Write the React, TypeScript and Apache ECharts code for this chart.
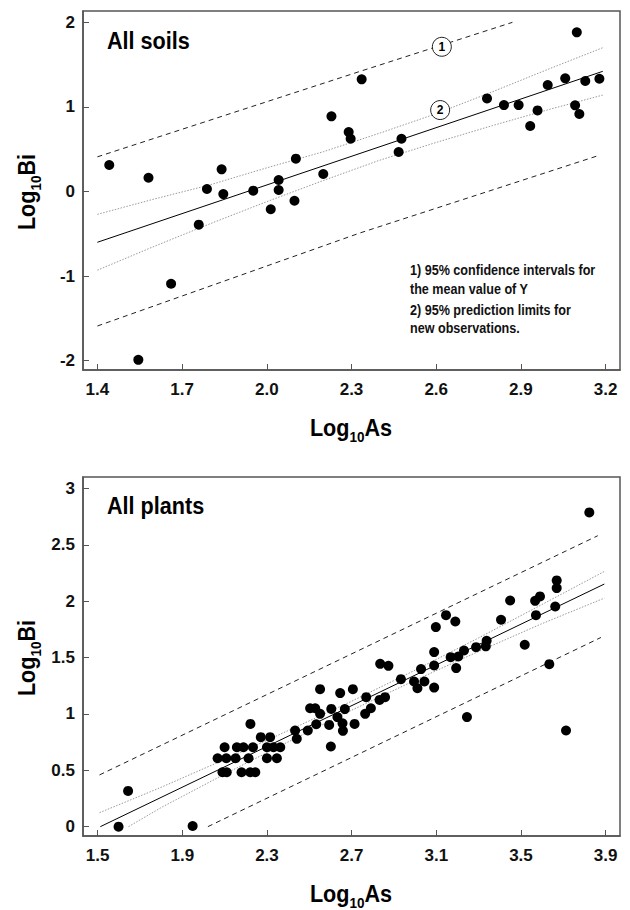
import React, { useEffect, useRef } from "react";
import * as echarts from "echarts";

// ---------- data ----------
const soilsPoints: number[][] = [
  [1.442, 0.313], [1.545, -1.99], [1.581, 0.163], [1.661, -1.09], [1.759, -0.392],
  [1.788, 0.03], [1.84, 0.262], [1.846, -0.03], [1.952, 0.01], [2.014, -0.21],
  [2.042, 0.136], [2.042, 0.018], [2.098, -0.109], [2.103, 0.388], [2.2, 0.207],
  [2.229, 0.889], [2.29, 0.703], [2.297, 0.624], [2.336, 1.326], [2.467, 0.467],
  [2.477, 0.624], [2.78, 1.101], [2.84, 1.022], [2.892, 1.022], [2.933, 0.774],
  [2.959, 0.959], [2.995, 1.259], [3.057, 1.338], [3.092, 1.019], [3.098, 1.882],
  [3.107, 0.916], [3.128, 1.306], [3.178, 1.333],
];

const plantsPoints: number[][] = [
  [1.599, 0.0], [1.644, 0.317], [1.949, 0.006],
  [2.067, 0.607], [2.1, 0.705], [2.108, 0.607], [2.09, 0.483], [2.11, 0.483],
  [2.152, 0.607], [2.158, 0.705], [2.18, 0.483], [2.189, 0.705], [2.213, 0.607],
  [2.221, 0.483], [2.245, 0.483], [2.234, 0.705], [2.222, 0.912], [2.271, 0.794],
  [2.315, 0.794], [2.3, 0.705], [2.331, 0.705], [2.363, 0.705], [2.3, 0.607],
  [2.347, 0.607], [2.433, 0.853], [2.441, 0.779], [2.493, 0.853], [2.504, 1.051],
  [2.528, 1.051], [2.551, 1.001], [2.551, 1.22], [2.533, 0.909], [2.594, 0.903],
  [2.602, 0.711], [2.604, 1.045], [2.633, 0.972], [2.646, 1.185], [2.657, 0.918],
  [2.659, 0.85], [2.668, 1.043], [2.706, 1.22], [2.714, 0.912], [2.769, 1.149],
  [2.764, 1.001], [2.791, 1.051], [2.832, 1.125], [2.858, 1.149], [2.835, 1.445],
  [2.874, 1.427], [2.933, 1.309], [2.995, 1.288], [3.011, 1.229], [3.044, 1.288],
  [3.028, 1.398], [3.09, 1.549], [3.09, 1.43], [3.09, 1.234], [3.168, 1.504],
  [3.204, 1.51], [3.194, 1.407], [3.231, 1.563], [3.288, 1.593], [3.334, 1.6],
  [3.338, 1.65], [3.245, 0.972], [3.518, 1.614], [3.634, 1.442], [3.713, 0.853],
  [3.823, 2.789], [3.669, 2.185], [3.669, 2.117], [3.59, 2.043], [3.567, 2.004],
  [3.662, 1.954], [3.571, 1.877], [3.449, 2.007], [3.406, 1.836], [3.146, 1.877],
  [3.098, 1.771], [3.19, 1.821],
];

// regression / band lines
const soilsFitX = [1.4, 3.19];
const soilsFitY = [-0.6, 1.421];
const soilsConfX = [1.4, 1.6, 1.8, 2.0, 2.2, 2.4, 2.6, 2.8, 3.0, 3.19];
const soilsConfUpper = [-0.27, -0.09, 0.08, 0.28, 0.47, 0.69, 0.92, 1.18, 1.45, 1.7];
const soilsConfLower = [-0.93, -0.65, -0.38, -0.12, 0.13, 0.37, 0.58, 0.78, 0.97, 1.14];
const soilsPredUpperX = [1.4, 2.33, 2.87];
const soilsPredUpperY = [0.41, 1.42, 2.0];
const soilsPredLowerX = [1.4, 2.33, 3.17];
const soilsPredLowerY = [-1.59, -0.49, 0.42];

const plantsFitX = [1.513, 3.894];
const plantsFitY = [0, 2.153];
const plantsConfUpperX = [1.509, 1.8, 2.1, 2.4, 2.7, 3.0, 3.3, 3.6, 3.894];
const plantsConfUpperY = [0.124, 0.349, 0.596, 0.852, 1.113, 1.389, 1.675, 1.972, 2.265];
const plantsConfLowerX = [1.646, 1.8, 2.1, 2.4, 2.7, 3.0, 3.3, 3.6, 3.894];
const plantsConfLowerY = [0, 0.169, 0.466, 0.752, 1.033, 1.299, 1.555, 1.802, 2.028];
const plantsPredUpperX = [1.509, 3.863];
const plantsPredUpperY = [0.459, 2.582];
const plantsPredLowerX = [2.021, 3.878];
const plantsPredLowerY = [0, 1.679];

// circled markers on the soils panel
const markerLabels = ["1", "2"];
const markerPoints: number[][] = [[2.62, 1.711], [2.614, 0.963]];

// tick labels
const soilsXTicks = [1.4, 1.7, 2.0, 2.3, 2.6, 2.9, 3.2];
const soilsYTicks = [-2, -1, 0, 1, 2];
const plantsXTicks = [1.5, 1.9, 2.3, 2.7, 3.1, 3.5, 3.9];
const plantsYTicks = [0, 0.5, 1, 1.5, 2, 2.5, 3];

const noteLines = [
  "1) 95% confidence intervals for",
  "the mean value of Y",
  "2) 95% prediction limits for",
  "new observations.",
];

const FONT = "'Liberation Sans', Arial, Helvetica, sans-serif";
const AXIS_COLOR = "#555";

const zip = (xs: number[], ys: number[]) => xs.map((x, i) => [x, ys[i]]);

function makeXAxis(gridIndex: number, min: number, max: number, ticks: number[], dec: number) {
  return {
    type: "value",
    gridIndex,
    min,
    max,
    axisLine: { show: true, onZero: false, lineStyle: { color: AXIS_COLOR, width: 1.5 } },
    axisTick: { show: true, inside: true, length: 6, customValues: ticks, lineStyle: { color: AXIS_COLOR, width: 1 } },
    axisLabel: {
      show: true,
      customValues: ticks,
      margin: 11,
      formatter: (v: number) => v.toFixed(dec),
      fontFamily: FONT,
      fontWeight: "bold",
      fontSize: 17,
      color: "#111",
    },
    splitLine: { show: false },
  };
}

function makeYAxis(gridIndex: number, min: number, max: number, ticks: number[]) {
  return {
    type: "value",
    gridIndex,
    min,
    max,
    axisLine: { show: true, onZero: false, lineStyle: { color: AXIS_COLOR, width: 1.5 } },
    axisTick: { show: true, inside: true, length: 6, customValues: ticks, lineStyle: { color: AXIS_COLOR, width: 1 } },
    axisLabel: {
      show: true,
      customValues: ticks,
      margin: 8,
      formatter: (v: number) => String(Math.round(v * 10) / 10),
      fontFamily: FONT,
      fontWeight: "bold",
      fontSize: 17,
      color: "#111",
    },
    splitLine: { show: false },
  };
}

function lineSeries(idx: number, data: number[][], style: any) {
  return {
    type: "line",
    xAxisIndex: idx,
    yAxisIndex: idx,
    data,
    symbol: "none",
    silent: true,
    z: 2,
    lineStyle: style,
  };
}

const solid = { color: "#000", width: 1, type: "solid" };
const dotted = { color: "#999", width: 1, type: [1.5, 1.5] };
const dashed = { color: "#222", width: 1, type: [5, 4] };

const titleText = (x: number, y: number, text: string) => ({
  type: "text",
  x,
  y,
  scaleX: 0.9,
  style: { text, font: `bold 24px ${FONT}`, fill: "#000", align: "left", verticalAlign: "middle" },
});

const richTitle = (x: number, y: number, tail: string, rotation: number) => ({
  type: "text",
  x,
  y,
  rotation,
  scaleX: 0.9,
  style: {
    text: `{b|Log}{s|10}{b|${tail}}`,
    align: "center",
    verticalAlign: "middle",
    fill: "#000",
    rich: {
      b: { fontSize: 24, fontWeight: "bold", fontFamily: FONT, lineHeight: 24, verticalAlign: "top", fill: "#000" },
      s: { fontSize: 15, fontWeight: "bold", fontFamily: FONT, lineHeight: 15, padding: [13, 0, 0, 0], verticalAlign: "top", fill: "#000" },
    },
  },
});

export default function App() {
  const ref = useRef<HTMLDivElement>(null);

  useEffect(() => {
    if (!ref.current) return;
    const chart = echarts.init(ref.current, undefined, { renderer: "svg" });
    const noteY = [270, 289, 310, 328];
    const option: any = {
      animation: false,
      backgroundColor: "#fff",
      grid: [
        { left: 83, top: 11, width: 537, height: 359, show: true, borderColor: AXIS_COLOR, borderWidth: 1.5, backgroundColor: "transparent" },
        { left: 83, top: 477, width: 537, height: 359, show: true, borderColor: AXIS_COLOR, borderWidth: 1.5, backgroundColor: "transparent" },
      ],
      xAxis: [
        makeXAxis(0, 1.349, 3.251, soilsXTicks, 1),
        makeXAxis(1, 1.431, 3.968, plantsXTicks, 1),
      ],
      yAxis: [
        makeYAxis(0, -2.11, 2.134, soilsYTicks),
        makeYAxis(1, -0.083, 3.103, plantsYTicks),
      ],
      series: [
        lineSeries(0, zip(soilsFitX, soilsFitY), solid),
        lineSeries(0, zip(soilsConfX, soilsConfUpper), dotted),
        lineSeries(0, zip(soilsConfX, soilsConfLower), dotted),
        lineSeries(0, zip(soilsPredUpperX, soilsPredUpperY), dashed),
        lineSeries(0, zip(soilsPredLowerX, soilsPredLowerY), dashed),
        {
          type: "scatter",
          xAxisIndex: 0,
          yAxisIndex: 0,
          data: soilsPoints,
          symbol: "circle",
          symbolSize: 10,
          itemStyle: { color: "#000", opacity: 1 },
          z: 5,
        },
        {
          type: "scatter",
          xAxisIndex: 0,
          yAxisIndex: 0,
          data: markerPoints.map((p, i) => ({ value: p, name: markerLabels[i] })),
          symbol: "circle",
          symbolSize: 19,
          itemStyle: { color: "#fff", borderColor: "#222", borderWidth: 1, opacity: 1 },
          label: {
            show: true,
            position: "inside",
            formatter: (p: any) => p.name,
            fontFamily: FONT,
            fontWeight: "bold",
            fontSize: 12,
            color: "#000",
          },
          z: 6,
        },
        lineSeries(1, zip(plantsFitX, plantsFitY), solid),
        lineSeries(1, zip(plantsConfUpperX, plantsConfUpperY), dotted),
        lineSeries(1, zip(plantsConfLowerX, plantsConfLowerY), dotted),
        lineSeries(1, zip(plantsPredUpperX, plantsPredUpperY), dashed),
        lineSeries(1, zip(plantsPredLowerX, plantsPredLowerY), dashed),
        {
          type: "scatter",
          xAxisIndex: 1,
          yAxisIndex: 1,
          data: plantsPoints,
          symbol: "circle",
          symbolSize: 10,
          itemStyle: { color: "#000", opacity: 1 },
          z: 5,
        },
      ],
      graphic: [
        titleText(107, 41, "All soils"),
        titleText(107, 506, "All plants"),
        richTitle(351, 428, "As", 0),
        richTitle(351, 894, "As", 0),
        richTitle(27, 192, "Bi", Math.PI / 2),
        richTitle(27, 658, "Bi", Math.PI / 2),
        ...noteLines.map((t, i) => ({
          type: "text",
          x: 410,
          y: noteY[i],
          scaleX: 0.9,
          style: { text: t, font: `bold 14px ${FONT}`, fill: "#111", align: "left", verticalAlign: "middle" },
        })),
      ],
    };
    chart.setOption(option);
    return () => chart.dispose();
  }, []);

  return (
    <div
      ref={ref}
      style={{ position: "fixed", left: 0, top: 0, width: 630, height: 910, background: "#fff" }}
    />
  );
}
